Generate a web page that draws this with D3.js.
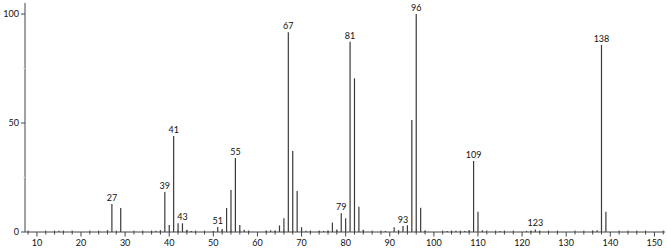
<!DOCTYPE html>
<html><head><meta charset="utf-8">
<script src="https://cdn.jsdelivr.net/npm/d3@7"></script>
<style>body{margin:0;background:#fff}svg{display:block}text{font-family:Lato,"DejaVu Sans",sans-serif;font-size:9px;fill:#111}</style>
</head><body>
<svg id="c" width="667" height="249"></svg>
<script>
const mz =        [15, 26, 27, 29, 37, 38, 39, 40, 41, 42, 43, 44, 45, 50, 51, 52, 53, 54, 55, 56, 57, 58, 62, 63, 64, 65, 66, 67, 68, 69, 70, 71, 72, 74, 75, 76, 77, 78, 79, 80, 81, 82, 83, 84, 89, 91, 92, 93, 94, 95, 96, 97, 98, 103, 104, 105, 107, 108, 109, 110, 111, 115, 121, 122, 123, 124, 136, 137, 138, 139];
const intensity = [0.6,0.8,12.8,11, 0.6,0.8,18.3,3.2,44, 4, 4, 1, 0.5,0.5,2.3,1.4,11, 19.3,34, 3.2,1, 0.5,0.6,0.8,0.6,3, 6.3,91.6,37.2,18.8,2.2,0.6,0.4,0.5,0.5,0.6,4.3,1.2,8.6,6.3,87.3,70.5,11.6,1, 0.5,2.2,0.8,2.8,3.1,51.4,100,11.1,0.6,0.5,0.5,0.6, 0.5, 0.8, 32.6,9.3,0.8,0.5,0.5,0.5,1.2,0.5,0.6,0.8,85.8,9.3];
const labelled = [27, 39, 41, 43, 51, 55, 67, 79, 81, 93, 96, 109, 123, 138];
const xTicks = [10, 20, 30, 40, 50, 60, 70, 80, 90, 100, 110, 120, 130, 140, 150];
const yTicks = [0, 50, 100];

const svg = d3.select("#c");
const x = d3.scaleLinear().domain([7.3, 152.4]).range([25, 665]);
const y = d3.scaleLinear().domain([0, 100]).range([232, 14]);
const axisColor = "#444";

// bars
svg.append("g").selectAll("line").data(mz.map((m,i)=>({m, v:intensity[i]}))).join("line")
  .attr("x1", d=>x(d.m)).attr("x2", d=>x(d.m))
  .attr("y1", y(0)).attr("y2", d=>y(d.v))
  .attr("stroke", "#3a3a3a").attr("stroke-width", 1.2);

// labels
svg.append("g").selectAll("text").data(labelled).join("text")
  .attr("x", d=>x(d)).attr("y", d=>y(intensity[mz.indexOf(d)]) - 3)
  .attr("text-anchor", "middle").text(d=>d);

// x axis
const xg = svg.append("g").attr("transform", `translate(0,${y(0)})`);
xg.append("line").attr("x1", 25).attr("x2", 665).attr("stroke", axisColor);
const minor = d3.range(8, 153, 2).filter(v => v % 10 !== 0);
xg.selectAll(".mn").data(minor).join("line").attr("class","mn")
  .attr("x1", d=>x(d)).attr("x2", d=>x(d)).attr("y1", -1.5).attr("y2", 2.5).attr("stroke", axisColor);
xg.selectAll(".mj").data(xTicks).join("line").attr("class","mj")
  .attr("x1", d=>x(d)).attr("x2", d=>x(d)).attr("y1", 0).attr("y2", 4.5).attr("stroke", axisColor);
xg.selectAll("text").data(xTicks).join("text")
  .attr("x", d=>x(d)).attr("y", 14).attr("text-anchor", "middle").text(d=>d);

// y axis
const yg = svg.append("g");
yg.append("line").attr("x1", 25).attr("x2", 25).attr("y1", 3).attr("y2", y(0)).attr("stroke", axisColor);
yg.selectAll(".yt").data(yTicks).join("line").attr("class","yt")
  .attr("x1", 21).attr("x2", 25).attr("y1", d=>y(d)).attr("y2", d=>y(d)).attr("stroke", axisColor);
yg.selectAll(".ym").data([25, 75]).join("line").attr("class","ym")
  .attr("x1", 23).attr("x2", 25).attr("y1", d=>y(d)).attr("y2", d=>y(d)).attr("stroke", "#ddd");
yg.selectAll("text").data(yTicks).join("text")
  .attr("x", 19).attr("y", d=>y(d) + 3).attr("text-anchor", "end").text(d=>d);
</script>
</body></html>
